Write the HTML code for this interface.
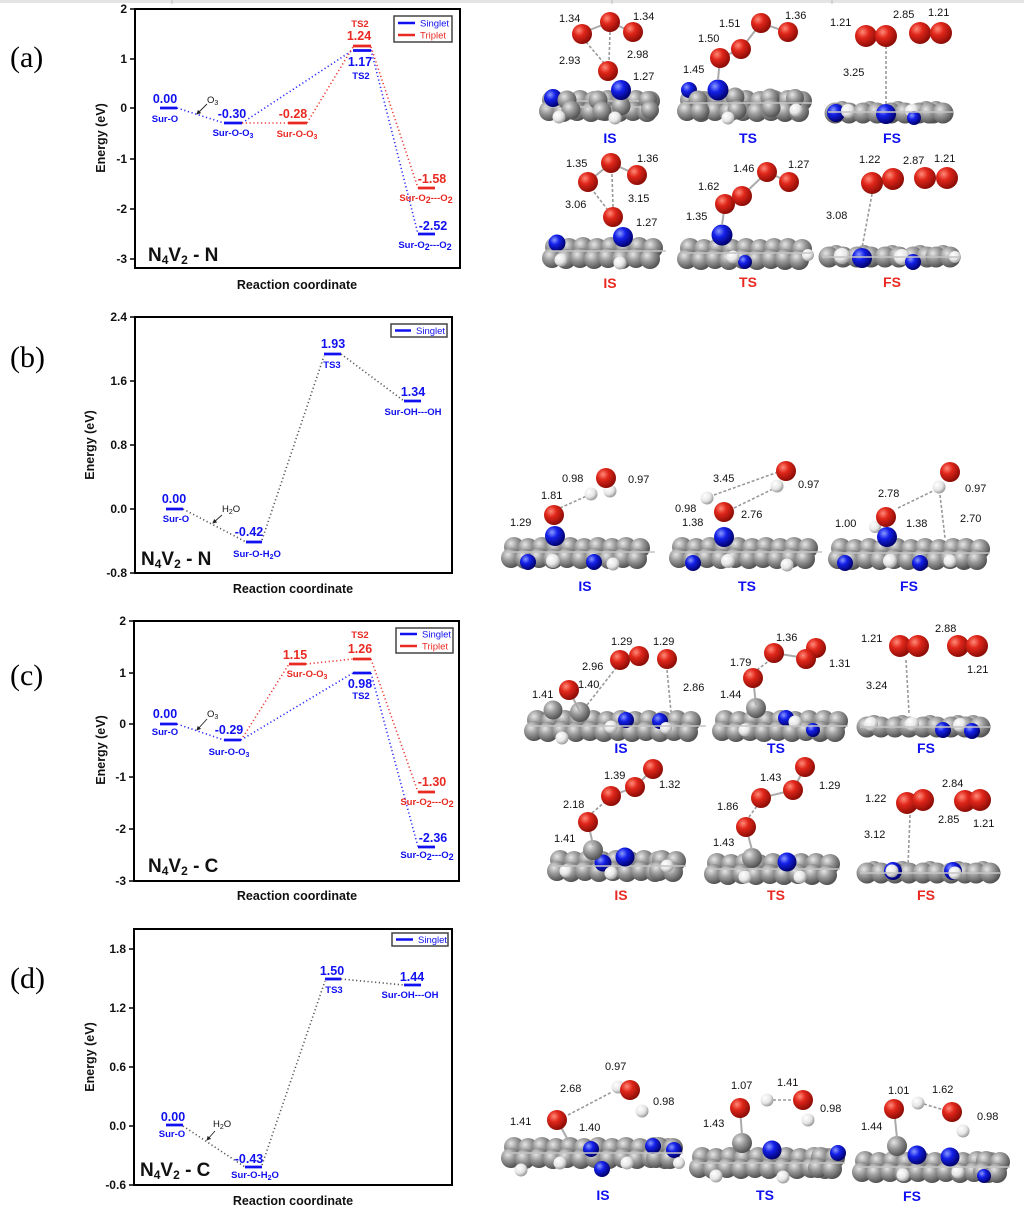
<!DOCTYPE html>
<html><head><meta charset="utf-8">
<style>
html,body{margin:0;padding:0;background:#fff;}
svg{display:block;}
text{font-family:"Liberation Sans",Arial,sans-serif;}
.ser{font-family:"Liberation Serif","Times New Roman",serif;}
.tk{font-size:12px;font-weight:bold;fill:#111;}
.ax{font-size:12.5px;font-weight:bold;fill:#111;}
.vb{font-size:12.5px;font-weight:bold;fill:#1010f0;}
.vr{font-size:12.5px;font-weight:bold;fill:#e82a22;}
.sb{font-size:9.5px;font-weight:bold;fill:#1010f0;}
.sr{font-size:9.5px;font-weight:bold;fill:#e82a22;}
.lg{font-size:9.5px;}
.d{font-size:11px;fill:#111;}
.lb{font-size:14px;font-weight:bold;fill:#1010f0;}
.lr{font-size:14px;font-weight:bold;fill:#e82a22;}
.g{fill:url(#gg);}
.r{fill:url(#gr);}
.b{fill:url(#gb);}
.w{fill:url(#gw);}
.bd{stroke:#aaa;stroke-width:2;fill:none;}
.ds{stroke:#999;stroke-width:1.6;stroke-dasharray:3 2;fill:none;}
.ar{stroke:#222;stroke-width:0.9;fill:none;}
.sl{stroke:#c4c4c4;stroke-width:1.6;}
.dbl{stroke:#2a2aff;stroke-width:1.6;stroke-dasharray:1.2 2.6;fill:none;}
.drd{stroke:#ee3a33;stroke-width:1.6;stroke-dasharray:1.2 2.6;fill:none;}
.dgy{stroke:#555;stroke-width:1.6;stroke-dasharray:1.2 2.6;fill:none;}
.barb{stroke:#1010f0;stroke-width:2.8;}
.barr{stroke:#e82a22;stroke-width:2.8;}
</style></head>
<body>
<svg width="1024" height="1220" viewBox="0 0 1024 1220" xmlns="http://www.w3.org/2000/svg">
<defs>
<radialGradient id="gg" cx="35%" cy="32%" r="70%"><stop offset="0" stop-color="#e6e6e6"/><stop offset="0.45" stop-color="#9a9a9a"/><stop offset="1" stop-color="#505050"/></radialGradient>
<radialGradient id="gr" cx="35%" cy="32%" r="70%"><stop offset="0" stop-color="#ff8a78"/><stop offset="0.4" stop-color="#e0261a"/><stop offset="1" stop-color="#8a0c06"/></radialGradient>
<radialGradient id="gb" cx="35%" cy="32%" r="70%"><stop offset="0" stop-color="#8a9aff"/><stop offset="0.4" stop-color="#1420e8"/><stop offset="1" stop-color="#00006a"/></radialGradient>
<radialGradient id="gw" cx="35%" cy="32%" r="70%"><stop offset="0" stop-color="#ffffff"/><stop offset="0.6" stop-color="#e6e6e6"/><stop offset="1" stop-color="#9a9a9a"/></radialGradient>
<marker id="ah" markerWidth="5" markerHeight="5" refX="4" refY="2.5" orient="auto"><path d="M0,0 L5,2.5 L0,5 z" fill="#222"/></marker>
<g id="u"><circle fill="url(#gg)" cx="7" cy="-5" r="10"/><circle fill="url(#gg)" cx="21" cy="-4" r="10"/><circle fill="url(#gg)" cx="4" cy="6" r="10"/><circle fill="url(#gg)" cx="18" cy="7" r="10"/></g>
<g id="f"><circle fill="url(#gg)" cx="14" cy="-3" r="9"/><circle fill="url(#gg)" cx="7" cy="0" r="10.5"/><circle fill="url(#gg)" cx="21" cy="0" r="10.5"/></g>
</defs>
<rect x="0" y="0" width="1024" height="1220" fill="#fff"/>
<rect x="0" y="0" width="1024" height="3" fill="#e4e4e4"/>
<line x1="172" y1="0" x2="172" y2="4" stroke="#bbb"/><line x1="612" y1="0" x2="612" y2="4" stroke="#bbb"/><line x1="832" y1="0" x2="832" y2="4" stroke="#bbb"/>

<!-- ================= PANEL A CHART ================= -->
<text class="ser" x="10" y="67" font-size="30">(a)</text>
<rect x="135" y="9" width="325" height="259" fill="none" stroke="#000" stroke-width="2"/>
<g stroke="#000" stroke-width="1.5">
<line x1="130" y1="9" x2="135" y2="9"/><line x1="130" y1="59" x2="135" y2="59"/><line x1="130" y1="108" x2="135" y2="108"/><line x1="130" y1="159" x2="135" y2="159"/><line x1="130" y1="209" x2="135" y2="209"/><line x1="130" y1="259" x2="135" y2="259"/>
</g>
<g class="tk" text-anchor="end">
<text x="127" y="13">2</text><text x="127" y="63">1</text><text x="127" y="112">0</text><text x="127" y="163">-1</text><text x="127" y="213">-2</text><text x="127" y="263">-3</text>
</g>
<text class="ax" transform="translate(105,138) rotate(-90)" text-anchor="middle">Energy (eV)</text>
<text class="ax" x="297" y="289" text-anchor="middle">Reaction coordinate</text>
<line class="dbl" x1="177" y1="108" x2="224" y2="123"/>
<line class="dbl" x1="242" y1="123" x2="353" y2="50"/>
<line class="dbl" x1="371" y1="50" x2="418" y2="234"/>
<line class="drd" x1="242" y1="123" x2="288" y2="123"/>
<line class="drd" x1="307" y1="123" x2="353" y2="47"/>
<line class="drd" x1="371" y1="47" x2="418" y2="188"/>
<line class="barb" x1="160" y1="108" x2="177" y2="108"/>
<line class="barb" x1="224" y1="123" x2="242" y2="123"/>
<line class="barr" x1="288" y1="123" x2="307" y2="123"/>
<line class="barr" x1="353" y1="46" x2="371" y2="46"/>
<line class="barb" x1="353" y1="50.5" x2="371" y2="50.5"/>
<line class="barr" x1="418" y1="188" x2="435" y2="188"/>
<line class="barb" x1="418" y1="234" x2="435" y2="234"/>
<text class="vb" x="165" y="103" text-anchor="middle">0.00</text>
<text class="sb" x="165" y="122" text-anchor="middle">Sur-O</text>
<text class="vb" x="232" y="118" text-anchor="middle">-0.30</text>
<text class="sb" x="233" y="136" text-anchor="middle">Sur-O-O<tspan font-size="7" dy="2">3</tspan></text>
<text class="vr" x="293" y="118" text-anchor="middle">-0.28</text>
<text class="sr" x="297" y="137" text-anchor="middle">Sur-O-O<tspan font-size="7" dy="2">3</tspan></text>
<text class="sr" x="360" y="27" text-anchor="middle" font-size="10">TS2</text>
<text class="vr" x="359" y="40" text-anchor="middle">1.24</text>
<text class="vb" x="360" y="66" text-anchor="middle">1.17</text>
<text class="sb" x="361" y="79" text-anchor="middle" font-size="10">TS2</text>
<text class="vr" x="432" y="183" text-anchor="middle">-1.58</text>
<text class="sr" x="426" y="201" text-anchor="middle">Sur-O<tspan font-size="9" dy="2">2</tspan><tspan dy="-2">---O</tspan><tspan font-size="9" dy="2">2</tspan></text>
<text class="vb" x="433" y="230" text-anchor="middle">-2.52</text>
<text class="sb" x="425" y="248" text-anchor="middle">Sur-O<tspan font-size="9" dy="2">2</tspan><tspan dy="-2">---O</tspan><tspan font-size="9" dy="2">2</tspan></text>
<text x="207" y="103" font-size="9.5" fill="#111">O<tspan font-size="7" dy="2">3</tspan></text>
<line class="ar" x1="207" y1="104" x2="197" y2="114" marker-end="url(#ah)"/>
<rect x="394" y="16" width="58" height="26" fill="#fff" stroke="#444" stroke-width="1.5"/>
<line x1="398" y1="23" x2="415" y2="23" stroke="#1010f0" stroke-width="2.5"/>
<text class="lg" x="420" y="26.5" fill="#1010f0">Singlet</text>
<line x1="398" y1="35" x2="415" y2="35" stroke="#e82a22" stroke-width="2.5"/>
<text class="lg" x="420" y="38.5" fill="#e82a22">Triplet</text>
<text x="148" y="261" font-size="19" font-weight="bold" fill="#111">N<tspan font-size="12" dy="3">4</tspan><tspan dy="-3">V</tspan><tspan font-size="12" dy="3">2</tspan><tspan dy="-3"> - N</tspan></text>

<!-- ================= PANEL B CHART ================= -->
<text class="ser" x="10" y="367" font-size="30">(b)</text>
<rect x="135" y="317" width="317" height="256" fill="none" stroke="#000" stroke-width="2"/>
<g stroke="#000" stroke-width="1.5">
<line x1="130" y1="317" x2="135" y2="317"/><line x1="130" y1="381" x2="135" y2="381"/><line x1="130" y1="445" x2="135" y2="445"/><line x1="130" y1="509" x2="135" y2="509"/><line x1="130" y1="573" x2="135" y2="573"/>
</g>
<g class="tk" text-anchor="end">
<text x="127" y="321">2.4</text><text x="127" y="385">1.6</text><text x="127" y="449">0.8</text><text x="127" y="513">0.0</text><text x="127" y="577">-0.8</text>
</g>
<text class="ax" transform="translate(94,445) rotate(-90)" text-anchor="middle">Energy (eV)</text>
<text class="ax" x="293" y="593" text-anchor="middle">Reaction coordinate</text>
<line class="dgy" x1="183" y1="509" x2="246" y2="542"/>
<line class="dgy" x1="262" y1="540" x2="324" y2="356"/>
<line class="dgy" x1="341" y1="354" x2="404" y2="401"/>
<line class="barb" x1="166" y1="509" x2="183" y2="509"/>
<line class="barb" x1="246" y1="542" x2="262" y2="542"/>
<line class="barb" x1="324" y1="354" x2="341" y2="354"/>
<line class="barb" x1="404" y1="401" x2="421" y2="401"/>
<text class="vb" x="174" y="503" text-anchor="middle">0.00</text>
<text class="sb" x="176" y="522" text-anchor="middle">Sur-O</text>
<text class="vb" x="249" y="536" text-anchor="middle">-0.42</text>
<text class="sb" x="257" y="557" text-anchor="middle">Sur-O-H<tspan font-size="7" dy="2">2</tspan><tspan dy="-2">O</tspan></text>
<text class="vb" x="333" y="348" text-anchor="middle">1.93</text>
<text class="sb" x="332" y="368" text-anchor="middle">TS3</text>
<text class="vb" x="413" y="396" text-anchor="middle">1.34</text>
<text class="sb" x="413" y="415" text-anchor="middle">Sur-OH---OH</text>
<text x="222" y="512" font-size="9.5" fill="#111">H<tspan font-size="7" dy="2">2</tspan><tspan dy="-2">O</tspan></text>
<line class="ar" x1="222" y1="515" x2="213" y2="523" marker-end="url(#ah)"/>
<rect x="391" y="324" width="56" height="13" fill="#fff" stroke="#444" stroke-width="1.5"/>
<line x1="395" y1="330.5" x2="411" y2="330.5" stroke="#1010f0" stroke-width="2.5"/>
<text class="lg" x="416" y="334" fill="#1010f0">Singlet</text>
<text x="141" y="565" font-size="19" font-weight="bold" fill="#111">N<tspan font-size="12" dy="3">4</tspan><tspan dy="-3">V</tspan><tspan font-size="12" dy="3">2</tspan><tspan dy="-3"> - N</tspan></text>

<!-- ================= PANEL C CHART ================= -->
<text class="ser" x="10" y="685" font-size="30">(c)</text>
<rect x="134" y="621" width="325" height="260" fill="none" stroke="#000" stroke-width="2"/>
<g stroke="#000" stroke-width="1.5">
<line x1="129" y1="621" x2="134" y2="621"/><line x1="129" y1="673" x2="134" y2="673"/><line x1="129" y1="724" x2="134" y2="724"/><line x1="129" y1="777" x2="134" y2="777"/><line x1="129" y1="829" x2="134" y2="829"/><line x1="129" y1="881" x2="134" y2="881"/>
</g>
<g class="tk" text-anchor="end">
<text x="126" y="625">2</text><text x="126" y="677">1</text><text x="126" y="728">0</text><text x="126" y="781">-1</text><text x="126" y="833">-2</text><text x="126" y="885">-3</text>
</g>
<text class="ax" transform="translate(105,750) rotate(-90)" text-anchor="middle">Energy (eV)</text>
<text class="ax" x="297" y="900" text-anchor="middle">Reaction coordinate</text>
<line class="dbl" x1="177" y1="724" x2="224" y2="740"/>
<line class="dbl" x1="241" y1="740" x2="353" y2="673"/>
<line class="dbl" x1="371" y1="673" x2="418" y2="847"/>
<line class="drd" x1="243" y1="737" x2="289" y2="664"/>
<line class="drd" x1="306" y1="664" x2="353" y2="659"/>
<line class="drd" x1="371" y1="659" x2="418" y2="792"/>
<line class="barb" x1="160" y1="724" x2="177" y2="724"/>
<line class="barb" x1="224" y1="740" x2="241" y2="740"/>
<line class="barr" x1="289" y1="664" x2="306" y2="664"/>
<line class="barr" x1="353" y1="659" x2="371" y2="659"/>
<line class="barb" x1="353" y1="673" x2="371" y2="673"/>
<line class="barr" x1="418" y1="792" x2="435" y2="792"/>
<line class="barb" x1="418" y1="847" x2="435" y2="847"/>
<text class="vb" x="165" y="718" text-anchor="middle">0.00</text>
<text class="sb" x="165" y="735" text-anchor="middle">Sur-O</text>
<text class="vb" x="229" y="734" text-anchor="middle">-0.29</text>
<text class="sb" x="229" y="755" text-anchor="middle">Sur-O-O<tspan font-size="7" dy="2">3</tspan></text>
<text class="vr" x="295" y="659" text-anchor="middle">1.15</text>
<text class="sr" x="307" y="677" text-anchor="middle">Sur-O-O<tspan font-size="7" dy="2">3</tspan></text>
<text class="sr" x="360" y="638" text-anchor="middle" font-size="10">TS2</text>
<text class="vr" x="360" y="653" text-anchor="middle">1.26</text>
<text class="vb" x="360" y="688" text-anchor="middle">0.98</text>
<text class="sb" x="361" y="699" text-anchor="middle" font-size="10">TS2</text>
<text class="vr" x="432" y="786" text-anchor="middle">-1.30</text>
<text class="sr" x="427" y="805" text-anchor="middle">Sur-O<tspan font-size="9" dy="2">2</tspan><tspan dy="-2">---O</tspan><tspan font-size="9" dy="2">2</tspan></text>
<text class="vb" x="433" y="842" text-anchor="middle">-2.36</text>
<text class="sb" x="427" y="858" text-anchor="middle">Sur-O<tspan font-size="9" dy="2">2</tspan><tspan dy="-2">---O</tspan><tspan font-size="9" dy="2">2</tspan></text>
<text x="207" y="717" font-size="9.5" fill="#111">O<tspan font-size="7" dy="2">3</tspan></text>
<line class="ar" x1="207" y1="719" x2="197" y2="730" marker-end="url(#ah)"/>
<rect x="396" y="628" width="57" height="25" fill="#fff" stroke="#444" stroke-width="1.5"/>
<line x1="400" y1="634" x2="417" y2="634" stroke="#1010f0" stroke-width="2.5"/>
<text class="lg" x="422" y="637.5" fill="#1010f0">Singlet</text>
<line x1="400" y1="646" x2="417" y2="646" stroke="#e82a22" stroke-width="2.5"/>
<text class="lg" x="422" y="649.5" fill="#e82a22">Triplet</text>
<text x="148" y="872" font-size="19" font-weight="bold" fill="#111">N<tspan font-size="12" dy="3">4</tspan><tspan dy="-3">V</tspan><tspan font-size="12" dy="3">2</tspan><tspan dy="-3"> - C</tspan></text>

<!-- ================= PANEL D CHART ================= -->
<text class="ser" x="10" y="988" font-size="30">(d)</text>
<rect x="134" y="929" width="318" height="256" fill="none" stroke="#000" stroke-width="2"/>
<g stroke="#000" stroke-width="1.5">
<line x1="129" y1="949" x2="134" y2="949"/><line x1="129" y1="1008" x2="134" y2="1008"/><line x1="129" y1="1067" x2="134" y2="1067"/><line x1="129" y1="1126" x2="134" y2="1126"/><line x1="129" y1="1185" x2="134" y2="1185"/>
</g>
<g class="tk" text-anchor="end">
<text x="126" y="953">1.8</text><text x="126" y="1012">1.2</text><text x="126" y="1071">0.6</text><text x="126" y="1130">0.0</text><text x="126" y="1189">-0.6</text>
</g>
<text class="ax" transform="translate(94,1057) rotate(-90)" text-anchor="middle">Energy (eV)</text>
<text class="ax" x="293" y="1205" text-anchor="middle">Reaction coordinate</text>
<line class="dgy" x1="183" y1="1126" x2="245" y2="1167"/>
<line class="dgy" x1="262" y1="1165" x2="325" y2="981"/>
<line class="dgy" x1="341" y1="979" x2="404" y2="985"/>
<line class="barb" x1="166" y1="1125" x2="183" y2="1125"/>
<line class="barb" x1="245" y1="1167" x2="262" y2="1167"/>
<line class="barb" x1="325" y1="979" x2="341" y2="979"/>
<line class="barb" x1="404" y1="985" x2="421" y2="985"/>
<text class="vb" x="173" y="1121" text-anchor="middle">0.00</text>
<text class="sb" x="172" y="1137" text-anchor="middle">Sur-O</text>
<text class="vb" x="249" y="1163" text-anchor="middle">-0.43</text>
<text class="sb" x="255" y="1178" text-anchor="middle">Sur-O-H<tspan font-size="7" dy="2">2</tspan><tspan dy="-2">O</tspan></text>
<text class="vb" x="332" y="975" text-anchor="middle">1.50</text>
<text class="sb" x="334" y="993" text-anchor="middle">TS3</text>
<text class="vb" x="412" y="981" text-anchor="middle">1.44</text>
<text class="sb" x="410" y="998" text-anchor="middle">Sur-OH---OH</text>
<text x="213" y="1127" font-size="9.5" fill="#111">H<tspan font-size="7" dy="2">2</tspan><tspan dy="-2">O</tspan></text>
<line class="ar" x1="215" y1="1131" x2="207" y2="1140" marker-end="url(#ah)"/>
<rect x="392" y="933" width="56" height="13" fill="#fff" stroke="#444" stroke-width="1.5"/>
<line x1="396" y1="939.5" x2="413" y2="939.5" stroke="#1010f0" stroke-width="2.5"/>
<text class="lg" x="418" y="943" fill="#1010f0">Singlet</text>
<text x="140" y="1176" font-size="19" font-weight="bold" fill="#111">N<tspan font-size="12" dy="3">4</tspan><tspan dy="-3">V</tspan><tspan font-size="12" dy="3">2</tspan><tspan dy="-3"> - C</tspan></text>

<!-- ================= SLAB TILES ================= -->
<g>
<!-- a top -->
<use href="#u" x="545" y="105"/><use href="#u" x="573" y="105"/><use href="#u" x="601" y="105"/><use href="#u" x="629" y="105"/>
<use href="#u" x="683" y="105"/><use href="#u" x="711" y="105"/><use href="#u" x="739" y="105"/><use href="#u" x="767" y="105"/><use href="#u" x="781" y="105"/>
<use href="#f" x="828" y="113"/><use href="#f" x="856" y="113"/><use href="#f" x="884" y="113"/><use href="#f" x="912" y="113"/><use href="#f" x="922" y="113"/>
<!-- a bottom -->
<use href="#u" x="548" y="252"/><use href="#u" x="576" y="252"/><use href="#u" x="604" y="252"/><use href="#u" x="632" y="252"/>
<use href="#u" x="683" y="253"/><use href="#u" x="711" y="253"/><use href="#u" x="739" y="253"/><use href="#u" x="767" y="253"/><use href="#u" x="781" y="253"/>
<use href="#f" x="822" y="257"/><use href="#f" x="850" y="257"/><use href="#f" x="878" y="257"/><use href="#f" x="906" y="257"/><use href="#f" x="929" y="257"/>
<!-- b -->
<use href="#u" x="507" y="552"/><use href="#u" x="535" y="552"/><use href="#u" x="563" y="552"/><use href="#u" x="591" y="552"/><use href="#u" x="619" y="552"/>
<use href="#u" x="675" y="552"/><use href="#u" x="703" y="552"/><use href="#u" x="731" y="552"/><use href="#u" x="759" y="552"/><use href="#u" x="787" y="552"/>
<use href="#u" x="834" y="553"/><use href="#u" x="862" y="553"/><use href="#u" x="890" y="553"/><use href="#u" x="918" y="553"/><use href="#u" x="946" y="553"/><use href="#u" x="959" y="553"/>
<!-- c top -->
<use href="#u" x="530" y="725"/><use href="#u" x="558" y="725"/><use href="#u" x="586" y="725"/><use href="#u" x="614" y="725"/><use href="#u" x="642" y="725"/><use href="#u" x="670" y="725"/>
<use href="#u" x="718" y="725"/><use href="#u" x="746" y="725"/><use href="#u" x="774" y="725"/><use href="#u" x="802" y="725"/><use href="#u" x="817" y="725"/>
<use href="#f" x="860" y="727"/><use href="#f" x="888" y="727"/><use href="#f" x="916" y="727"/><use href="#f" x="944" y="727"/><use href="#f" x="959" y="727"/>
<!-- c bottom -->
<use href="#u" x="553" y="865"/><use href="#u" x="581" y="865"/><use href="#u" x="609" y="865"/><use href="#u" x="637" y="865"/><use href="#u" x="655" y="865"/>
<use href="#u" x="710" y="868"/><use href="#u" x="738" y="868"/><use href="#u" x="766" y="868"/><use href="#u" x="794" y="868"/><use href="#u" x="809" y="868"/>
<use href="#f" x="860" y="873"/><use href="#f" x="888" y="873"/><use href="#f" x="916" y="873"/><use href="#f" x="944" y="873"/><use href="#f" x="969" y="873"/>
<!-- d -->
<use href="#u" x="507" y="1152"/><use href="#u" x="535" y="1152"/><use href="#u" x="563" y="1152"/><use href="#u" x="591" y="1152"/><use href="#u" x="619" y="1152"/><use href="#u" x="647" y="1152"/><use href="#u" x="652" y="1152"/>
<use href="#u" x="695" y="1162"/><use href="#u" x="723" y="1162"/><use href="#u" x="751" y="1162"/><use href="#u" x="779" y="1162"/><use href="#u" x="807" y="1162"/><use href="#u" x="814" y="1162"/>
<use href="#u" x="858" y="1166"/><use href="#u" x="886" y="1166"/><use href="#u" x="914" y="1166"/><use href="#u" x="942" y="1166"/><use href="#u" x="970" y="1166"/><use href="#u" x="979" y="1166"/>
</g>

<!-- ================= STRUCTURES (a) top ================= -->
<g>
<line class="sl" x1="545" y1="101" x2="657" y2="101"/><line class="sl" x1="545" y1="107" x2="657" y2="107"/>
<circle class="b" cx="553" cy="98" r="9"/><circle class="g" cx="567" cy="100" r="9.5"/><circle class="g" cx="571" cy="110" r="9.5"/><circle class="w" cx="559" cy="117" r="6.5"/>
<circle class="g" cx="598" cy="100" r="9.5"/><circle class="g" cx="602" cy="111" r="9.5"/><circle class="g" cx="621" cy="106" r="9.5"/><circle class="w" cx="615" cy="118" r="6.5"/>
<circle class="g" cx="648" cy="100" r="9"/><circle class="g" cx="650" cy="110" r="9"/>
<circle class="b" cx="621" cy="90" r="10"/>
<line class="bd" x1="582" y1="33" x2="610" y2="22"/><line class="bd" x1="610" y1="22" x2="632" y2="32"/>
<line class="ds" x1="586" y1="42" x2="604" y2="63"/><line class="ds" x1="610" y1="32" x2="609" y2="62"/>
<circle class="r" cx="582" cy="34" r="10"/><circle class="r" cx="610" cy="22" r="10"/><circle class="r" cx="633" cy="32" r="10"/><circle class="r" cx="608" cy="71" r="10"/>
<text class="d" x="559" y="22">1.34</text><text class="d" x="633" y="20">1.34</text><text class="d" x="559" y="64">2.93</text><text class="d" x="627" y="58">2.98</text><text class="d" x="633" y="80">1.27</text>
<text class="lb" x="610" y="143" text-anchor="middle">IS</text>
</g>
<g>
<circle class="b" cx="689" cy="90" r="8"/><circle class="g" cx="698" cy="100" r="9.5"/><circle class="g" cx="700" cy="111" r="9.5"/>
<circle class="g" cx="735" cy="97" r="9.5"/><circle class="g" cx="737" cy="110" r="9.5"/><circle class="w" cx="728" cy="118" r="6.5"/>
<circle class="g" cx="770" cy="98" r="9.5"/><circle class="g" cx="771" cy="108" r="9.5"/><circle class="g" cx="795" cy="98" r="9"/><circle class="w" cx="796" cy="110" r="6.5"/>
<line class="sl" x1="683" y1="103" x2="812" y2="103"/>
<circle class="b" cx="718" cy="90" r="10.5"/>
<line class="bd" x1="718" y1="80" x2="720" y2="58"/><line class="bd" x1="720" y1="58" x2="741" y2="49"/><line class="bd" x1="741" y1="49" x2="761" y2="23"/><line class="bd" x1="761" y1="23" x2="787" y2="32"/>
<circle class="r" cx="720" cy="58" r="10"/><circle class="r" cx="741" cy="49" r="10"/><circle class="r" cx="761" cy="23" r="10"/><circle class="r" cx="788" cy="32" r="10"/>
<text class="d" x="719" y="27">1.51</text><text class="d" x="785" y="19">1.36</text><text class="d" x="698" y="42">1.50</text><text class="d" x="683" y="73">1.45</text>
<text class="lb" x="748" y="143" text-anchor="middle">TS</text>
</g>
<g>
<line class="ds" x1="886" y1="46" x2="886" y2="108"/>
<circle class="b" cx="836" cy="113" r="9"/><circle class="w" cx="848" cy="111" r="7"/>
<circle class="b" cx="886" cy="114" r="10"/><circle class="w" cx="912" cy="111" r="7"/><circle class="b" cx="914" cy="118" r="7"/>
<line class="sl" x1="828" y1="112" x2="953" y2="112"/>
<circle class="r" cx="866" cy="36" r="11"/><circle class="r" cx="886" cy="36" r="11"/><circle class="r" cx="920" cy="33" r="11"/><circle class="r" cx="941" cy="33" r="11"/>
<text class="d" x="830" y="26">1.21</text><text class="d" x="893" y="18">2.85</text><text class="d" x="928" y="16">1.21</text><text class="d" x="843" y="76">3.25</text>
<text class="lb" x="892" y="143" text-anchor="middle">FS</text>
</g>

<!-- ================= STRUCTURES (a) bottom ================= -->
<g>
<circle class="b" cx="557" cy="243" r="8.5"/><circle class="w" cx="561" cy="260" r="6.5"/>
<circle class="w" cx="620" cy="263" r="6.5"/>
<line class="sl" x1="548" y1="251" x2="666" y2="251"/>
<circle class="b" cx="623" cy="237" r="10"/>
<line class="bd" x1="588" y1="182" x2="611" y2="163"/><line class="bd" x1="611" y1="163" x2="637" y2="175"/>
<line class="ds" x1="594" y1="192" x2="607" y2="209"/><line class="ds" x1="612" y1="174" x2="613" y2="207"/>
<circle class="r" cx="588" cy="182" r="10"/><circle class="r" cx="611" cy="163" r="10"/><circle class="r" cx="637" cy="175" r="10"/><circle class="r" cx="613" cy="217" r="10"/>
<text class="d" x="566" y="167">1.35</text><text class="d" x="637" y="162">1.36</text><text class="d" x="565" y="208">3.06</text><text class="d" x="628" y="202">3.15</text><text class="d" x="636" y="226">1.27</text>
<text class="lr" x="610" y="288" text-anchor="middle">IS</text>
</g>
<g>
<circle class="b" cx="745" cy="262" r="7"/><circle class="w" cx="733" cy="257" r="6.5"/><circle class="w" cx="808" cy="255" r="6"/>
<line class="sl" x1="683" y1="253" x2="812" y2="253"/>
<circle class="b" cx="722" cy="235" r="10.5"/>
<line class="bd" x1="722" y1="225" x2="725" y2="204"/><line class="bd" x1="725" y1="204" x2="742" y2="196"/><line class="bd" x1="742" y1="196" x2="767" y2="172"/><line class="bd" x1="767" y1="172" x2="789" y2="182"/>
<circle class="r" cx="725" cy="204" r="10"/><circle class="r" cx="742" cy="196" r="10"/><circle class="r" cx="767" cy="172" r="10"/><circle class="r" cx="789" cy="182" r="10"/>
<text class="d" x="733" y="172">1.46</text><text class="d" x="788" y="168">1.27</text><text class="d" x="698" y="190">1.62</text><text class="d" x="686" y="220">1.35</text>
<text class="lr" x="748" y="287" text-anchor="middle">TS</text>
</g>
<g>
<line class="ds" x1="872" y1="194" x2="862" y2="248"/>
<circle class="w" cx="842" cy="256" r="8"/><circle class="b" cx="862" cy="258" r="10"/>
<circle class="w" cx="902" cy="257" r="8"/><circle class="b" cx="913" cy="262" r="8"/><circle class="w" cx="955" cy="257" r="6"/>
<line class="sl" x1="822" y1="257" x2="960" y2="257"/>
<circle class="r" cx="872" cy="183" r="11"/><circle class="r" cx="893" cy="179" r="11"/><circle class="r" cx="925" cy="178" r="11"/><circle class="r" cx="947" cy="178" r="11"/>
<text class="d" x="859" y="163">1.22</text><text class="d" x="903" y="164">2.87</text><text class="d" x="934" y="162">1.21</text><text class="d" x="826" y="219">3.08</text>
<text class="lr" x="892" y="287" text-anchor="middle">FS</text>
</g>

<!-- ================= STRUCTURES (b) ================= -->
<g>
<circle class="b" cx="528" cy="562" r="8"/><circle class="w" cx="553" cy="561" r="7"/><circle class="b" cx="594" cy="562" r="8"/><circle class="w" cx="613" cy="564" r="6.5"/>
<line class="sl" x1="507" y1="552" x2="655" y2="552"/>
<circle class="b" cx="555" cy="536" r="10"/>
<line class="ds" x1="560" y1="508" x2="589" y2="495"/>
<circle class="w" cx="610" cy="491" r="6.5"/><circle class="r" cx="606" cy="478" r="10"/><circle class="w" cx="591" cy="494" r="6.5"/>
<circle class="r" cx="554" cy="515" r="10"/>
<text class="d" x="562" y="482">0.98</text><text class="d" x="628" y="483">0.97</text><text class="d" x="541" y="499">1.81</text><text class="d" x="510" y="526">1.29</text>
<text class="lb" x="585" y="591" text-anchor="middle">IS</text>
</g>
<g>
<circle class="b" cx="693" cy="563" r="8"/><circle class="w" cx="728" cy="561" r="7"/><circle class="w" cx="787" cy="565" r="6.5"/>
<line class="sl" x1="675" y1="552" x2="822" y2="552"/>
<circle class="b" cx="724" cy="537" r="10"/>
<line class="ds" x1="714" y1="495" x2="778" y2="472"/><line class="ds" x1="734" y1="508" x2="775" y2="488"/>
<circle class="w" cx="777" cy="486" r="6.5"/><circle class="r" cx="786" cy="471" r="10"/>
<circle class="w" cx="707" cy="498" r="6.5"/><circle class="r" cx="724" cy="512" r="10"/>
<text class="d" x="713" y="482">3.45</text><text class="d" x="798" y="488">0.97</text><text class="d" x="675" y="512">0.98</text><text class="d" x="741" y="518">2.76</text><text class="d" x="682" y="526">1.38</text>
<text class="lb" x="747" y="591" text-anchor="middle">TS</text>
</g>
<g>
<circle class="b" cx="845" cy="563" r="8"/><circle class="w" cx="890" cy="561" r="7"/><circle class="b" cx="920" cy="563" r="8"/><circle class="w" cx="950" cy="561" r="6.5"/>
<line class="sl" x1="834" y1="553" x2="990" y2="553"/>
<circle class="w" cx="875" cy="527" r="6"/><circle class="b" cx="887" cy="537" r="10"/>
<line class="ds" x1="898" y1="508" x2="935" y2="490"/><line class="ds" x1="940" y1="495" x2="945" y2="538"/>
<circle class="w" cx="939" cy="487" r="6.5"/><circle class="r" cx="950" cy="472" r="10"/>
<circle class="r" cx="886" cy="517" r="10"/>
<text class="d" x="878" y="497">2.78</text><text class="d" x="965" y="492">0.97</text><text class="d" x="835" y="527">1.00</text><text class="d" x="906" y="527">1.38</text><text class="d" x="960" y="522">2.70</text>
<text class="lb" x="909" y="591" text-anchor="middle">FS</text>
</g>

<!-- ================= STRUCTURES (c) top ================= -->
<g>
<circle class="w" cx="562" cy="738" r="6.5"/><circle class="b" cx="626" cy="720" r="8"/><circle class="w" cx="611" cy="727" r="6.5"/>
<circle class="b" cx="660" cy="721" r="8"/><circle class="w" cx="666" cy="728" r="6"/>
<line class="sl" x1="530" y1="726" x2="706" y2="726"/>
<circle class="g" cx="553" cy="710" r="9.5"/><circle class="g" cx="580" cy="712" r="10"/>
<line class="ds" x1="587" y1="705" x2="616" y2="668"/><line class="ds" x1="667" y1="670" x2="671" y2="712"/>
<line class="bd" x1="569" y1="690" x2="580" y2="712"/>
<circle class="r" cx="569" cy="690" r="10"/>
<circle class="r" cx="620" cy="660" r="10"/><circle class="r" cx="639" cy="656" r="10"/><circle class="r" cx="667" cy="659" r="10"/>
<text class="d" x="611" y="645">1.29</text><text class="d" x="653" y="645">1.29</text><text class="d" x="582" y="670">2.96</text><text class="d" x="578" y="688">1.40</text><text class="d" x="532" y="698">1.41</text><text class="d" x="683" y="691">2.86</text>
<text class="lb" x="621" y="753" text-anchor="middle">IS</text>
</g>
<g>
<circle class="w" cx="745" cy="730" r="6.5"/><circle class="b" cx="786" cy="718" r="8"/><circle class="w" cx="795" cy="722" r="6.5"/><circle class="b" cx="813" cy="730" r="7"/>
<line class="sl" x1="718" y1="726" x2="848" y2="726"/>
<circle class="g" cx="756" cy="708" r="10"/>
<line class="bd" x1="753" y1="678" x2="756" y2="705"/><line class="bd" x1="774" y1="653" x2="805" y2="658"/>
<line class="ds" x1="757" y1="670" x2="770" y2="660"/>
<circle class="r" cx="753" cy="678" r="10"/><circle class="r" cx="774" cy="653" r="10"/><circle class="r" cx="816" cy="648" r="10"/><circle class="r" cx="806" cy="659" r="10"/>
<text class="d" x="776" y="641">1.36</text><text class="d" x="730" y="666">1.79</text><text class="d" x="829" y="667">1.31</text><text class="d" x="720" y="698">1.44</text>
<text class="lb" x="776" y="753" text-anchor="middle">TS</text>
</g>
<g>
<line class="ds" x1="906" y1="660" x2="909" y2="713"/>
<circle class="w" cx="871" cy="724" r="7"/><circle class="w" cx="912" cy="724" r="7"/>
<circle class="b" cx="943" cy="730" r="8"/><circle class="w" cx="960" cy="725" r="7"/><circle class="b" cx="972" cy="731" r="8"/>
<line class="sl" x1="860" y1="727" x2="990" y2="727"/>
<circle class="r" cx="900" cy="646" r="11"/><circle class="r" cx="918" cy="646" r="11"/><circle class="r" cx="958" cy="646" r="11"/><circle class="r" cx="977" cy="646" r="11"/>
<text class="d" x="861" y="642">1.21</text><text class="d" x="935" y="632">2.88</text><text class="d" x="967" y="673">1.21</text><text class="d" x="866" y="689">3.24</text>
<text class="lb" x="926" y="753" text-anchor="middle">FS</text>
</g>

<!-- ================= STRUCTURES (c) bottom ================= -->
<g>
<circle class="w" cx="566" cy="871" r="6.5"/><circle class="b" cx="603" cy="863" r="8.5"/><circle class="w" cx="611" cy="873" r="6.5"/><circle class="w" cx="667" cy="866" r="6.5"/>
<line class="sl" x1="553" y1="866" x2="686" y2="866"/>
<circle class="g" cx="593" cy="850" r="10"/><circle class="b" cx="625" cy="857" r="9.5"/>
<line class="bd" x1="588" y1="822" x2="593" y2="845"/><line class="bd" x1="611" y1="796" x2="635" y2="787"/><line class="bd" x1="635" y1="787" x2="653" y2="769"/>
<line class="ds" x1="592" y1="813" x2="606" y2="801"/>
<circle class="r" cx="588" cy="822" r="10"/><circle class="r" cx="611" cy="796" r="10"/><circle class="r" cx="635" cy="787" r="10"/><circle class="r" cx="653" cy="769" r="10"/>
<text class="d" x="604" y="779">1.39</text><text class="d" x="659" y="788">1.32</text><text class="d" x="563" y="808">2.18</text><text class="d" x="554" y="842">1.41</text>
<text class="lr" x="621" y="900" text-anchor="middle">IS</text>
</g>
<g>
<circle class="w" cx="745" cy="877" r="6.5"/><circle class="w" cx="800" cy="877" r="6.5"/>
<line class="sl" x1="710" y1="869" x2="840" y2="869"/>
<circle class="g" cx="752" cy="858" r="10"/><circle class="b" cx="787" cy="862" r="9.5"/>
<line class="bd" x1="746" y1="827" x2="752" y2="850"/><line class="bd" x1="761" y1="798" x2="793" y2="790"/><line class="bd" x1="793" y1="790" x2="805" y2="767"/>
<line class="ds" x1="749" y1="817" x2="757" y2="806"/>
<circle class="r" cx="746" cy="827" r="10"/><circle class="r" cx="761" cy="798" r="10"/><circle class="r" cx="793" cy="790" r="10"/><circle class="r" cx="805" cy="767" r="10"/>
<text class="d" x="760" y="781">1.43</text><text class="d" x="819" y="789">1.29</text><text class="d" x="717" y="810">1.86</text><text class="d" x="713" y="846">1.43</text>
<text class="lr" x="776" y="900" text-anchor="middle">TS</text>
</g>
<g>
<line class="ds" x1="910" y1="815" x2="908" y2="866"/>
<circle class="b" cx="893" cy="871" r="9"/><circle class="w" cx="892" cy="871" r="6.5"/>
<circle class="b" cx="953" cy="871" r="9"/><circle class="w" cx="955" cy="873" r="6.5"/>
<line class="sl" x1="860" y1="873" x2="1000" y2="873"/>
<circle class="r" cx="907" cy="803" r="11"/><circle class="r" cx="923" cy="800" r="11"/><circle class="r" cx="965" cy="801" r="11"/><circle class="r" cx="980" cy="800" r="11"/>
<text class="d" x="865" y="802">1.22</text><text class="d" x="942" y="787">2.84</text><text class="d" x="938" y="823">2.85</text><text class="d" x="973" y="827">1.21</text><text class="d" x="864" y="838">3.12</text>
<text class="lr" x="926" y="900" text-anchor="middle">FS</text>
</g>

<!-- ================= STRUCTURES (d) ================= -->
<g>
<circle class="w" cx="521" cy="1170" r="6.5"/><circle class="w" cx="560" cy="1163" r="6.5"/>
<circle class="b" cx="591" cy="1149" r="8"/><circle class="b" cx="602" cy="1169" r="8"/><circle class="w" cx="627" cy="1163" r="6.5"/>
<circle class="b" cx="653" cy="1146" r="8"/><circle class="b" cx="674" cy="1150" r="8"/><circle class="w" cx="679" cy="1163" r="6"/>
<line class="sl" x1="507" y1="1153" x2="683" y2="1153"/>
<line class="bd" x1="557" y1="1120" x2="568" y2="1140"/>
<line class="ds" x1="568" y1="1115" x2="612" y2="1092"/>
<circle class="r" cx="557" cy="1120" r="10"/>
<circle class="w" cx="618" cy="1087" r="6.5"/><circle class="r" cx="630" cy="1090" r="10"/><circle class="w" cx="642" cy="1111" r="6.5"/>
<text class="d" x="605" y="1070">0.97</text><text class="d" x="560" y="1092">2.68</text><text class="d" x="653" y="1105">0.98</text><text class="d" x="510" y="1125">1.41</text><text class="d" x="579" y="1131">1.40</text>
<text class="lb" x="603" y="1200" text-anchor="middle">IS</text>
</g>
<g>
<circle class="w" cx="716" cy="1176" r="6.5"/><circle class="w" cx="783" cy="1177" r="6.5"/><circle class="b" cx="838" cy="1153" r="8"/>
<line class="sl" x1="695" y1="1163" x2="845" y2="1163"/>
<circle class="g" cx="742" cy="1143" r="10"/><circle class="b" cx="772" cy="1150" r="9.5"/>
<line class="bd" x1="740" y1="1108" x2="742" y2="1135"/>
<line class="ds" x1="773" y1="1100" x2="795" y2="1100"/>
<circle class="r" cx="740" cy="1108" r="10"/><circle class="w" cx="767" cy="1100" r="6.5"/><circle class="r" cx="803" cy="1100" r="10"/><circle class="w" cx="808" cy="1120" r="6.5"/>
<text class="d" x="731" y="1089">1.07</text><text class="d" x="777" y="1086">1.41</text><text class="d" x="820" y="1112">0.98</text><text class="d" x="703" y="1127">1.43</text>
<text class="lb" x="765" y="1200" text-anchor="middle">TS</text>
</g>
<g>
<circle class="w" cx="903" cy="1175" r="6.5"/><circle class="w" cx="958" cy="1172" r="6.5"/><circle class="b" cx="984" cy="1176" r="7"/>
<line class="sl" x1="858" y1="1167" x2="1010" y2="1167"/>
<circle class="g" cx="897" cy="1146" r="10"/><circle class="b" cx="917" cy="1155" r="9.5"/><circle class="b" cx="950" cy="1157" r="9.5"/>
<line class="bd" x1="894" y1="1109" x2="897" y2="1138"/>
<line class="ds" x1="924" y1="1104" x2="944" y2="1110"/>
<circle class="r" cx="894" cy="1109" r="10"/><circle class="w" cx="918" cy="1103" r="6.5"/><circle class="r" cx="952" cy="1112" r="10"/><circle class="w" cx="963" cy="1131" r="6.5"/>
<text class="d" x="888" y="1094">1.01</text><text class="d" x="932" y="1093">1.62</text><text class="d" x="977" y="1120">0.98</text><text class="d" x="861" y="1130">1.44</text>
<text class="lb" x="912" y="1201" text-anchor="middle">FS</text>
</g>
</svg>
</body></html>
